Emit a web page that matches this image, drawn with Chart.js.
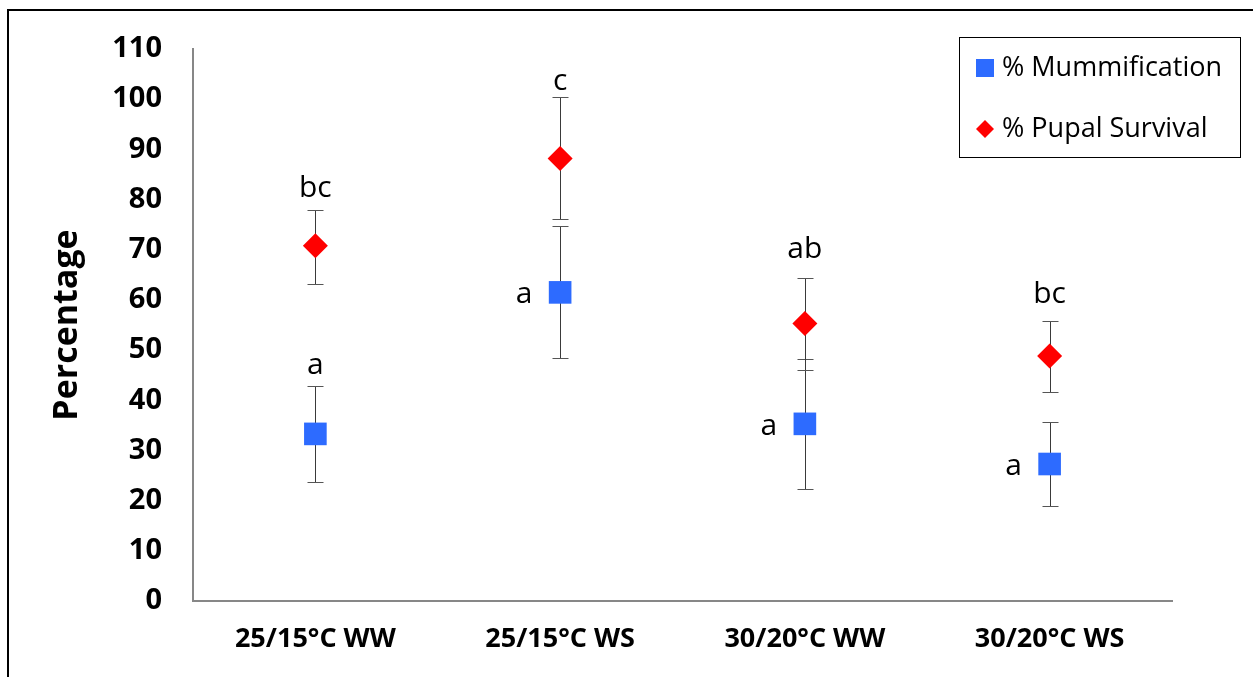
<!DOCTYPE html>
<html>
<head>
<meta charset="utf-8">
<title>Mummification and pupal survival</title>
<script src="https://cdn.jsdelivr.net/npm/chart.js@4/dist/chart.umd.min.js"></script>
<style>
  html, body { margin: 0; padding: 0; background: #ffffff; }
  #wrap { width: 1253px; height: 677px; position: relative; }
</style>
</head>
<body>
<div id="wrap"><canvas id="myChart" width="1253" height="677"></canvas></div>
<script>
"use strict";

// ---------- data ----------
var categories = ["25/15°C WW", "25/15°C WS", "30/20°C WW", "30/20°C WS"];

var mummValues = [33.3, 61.5, 35.3, 27.3];
var mummLow = [23.7, 48.5, 22.3, 18.9];
var mummHigh = [42.9, 74.7, 48.2, 35.7];

var pupalValues = [70.8, 88.2, 55.3, 48.8];
var pupalLow = [63.1, 76.1, 46.0, 41.6];
var pupalHigh = [77.9, 100.4, 64.3, 55.7];

// significance letters
var mummLetters = ["a", "a", "a", "a"];
var pupalLetters = ["bc", "c", "ab", "bc"];

var yTicks = [0, 10, 20, 30, 40, 50, 60, 70, 80, 90, 100, 110];

var seriesNames = ["% Mummification", "% Pupal Survival"];
var blue = "#2d6bff";
var red = "#ff0000";

//----------- error bars, drawn behind the markers ------------
var errorBars = {
  id: "errorBars",
  beforeDatasetsDraw: function (chart) {
    var ctx = chart.ctx;
    var x = chart.scales.x;
    var y = chart.scales.y;
    var sets = [[mummLow, mummHigh], [pupalLow, pupalHigh]];
    ctx.save();
    for (var s = 0; s < sets.length; s++) {
      for (var i = 0; i < categories.length; i++) {
        var px = Math.round(x.getPixelForValue(i)) + 0.5;
        var lo = Math.round(y.getPixelForValue(sets[s][0][i])) + 0.5;
        var hi = Math.round(y.getPixelForValue(sets[s][1][i])) + 0.5;
        ctx.strokeStyle = "#3a3a3a";
        ctx.lineWidth = 1;
        ctx.beginPath();
        ctx.moveTo(px, lo);
        ctx.lineTo(px, hi);
        ctx.stroke();
        ctx.strokeStyle = "#555555";
        ctx.beginPath();
        ctx.moveTo(px - 8, lo);
        ctx.lineTo(px + 8, lo);
        ctx.moveTo(px - 8, hi);
        ctx.lineTo(px + 8, hi);
        ctx.stroke();
      }
    }
    ctx.restore();
  }
};

//----------- letters, frame and legend box ------------
var extras = {
  id: "extras",
  beforeDraw: function (chart) {
    var ctx = chart.ctx;
    ctx.save();
    ctx.fillStyle = "#ffffff";
    ctx.fillRect(0, 0, chart.width, chart.height);
    // outer frame (only left and top edges are in view)
    ctx.strokeStyle = "#000000";
    ctx.lineWidth = 2;
    ctx.strokeRect(8, 10, 1400, 800);
    ctx.restore();
  },
  afterDatasetsDraw: function (chart) {
    var ctx = chart.ctx;
    var x = chart.scales.x;
    var y = chart.scales.y;
    ctx.save();
    ctx.fillStyle = "#000000";
    ctx.font = "30px 'Open Sans'";
    ctx.textAlign = "center";
    ctx.textBaseline = "alphabetic";

    var redGap = [13, 7, 20, 18];
    for (var i = 0; i < categories.length; i++) {
      var px = x.getPixelForValue(i);
      ctx.fillText(pupalLetters[i], px, y.getPixelForValue(pupalHigh[i]) - redGap[i]);
      if (i === 0) {
        ctx.fillText(mummLetters[i], px, y.getPixelForValue(mummHigh[i]) - 12);
      } else {
        ctx.fillText(mummLetters[i], px - 36, y.getPixelForValue(mummValues[i]) + 11);
      }
    }

    // legend box
    ctx.fillStyle = "#ffffff";
    ctx.fillRect(959, 37, 281, 120);
    ctx.strokeStyle = "#000000";
    ctx.lineWidth = 1;
    ctx.strokeRect(959.5, 37.5, 281, 120);
    ctx.fillStyle = blue;
    ctx.fillRect(976, 59, 18, 18);
    ctx.fillStyle = red;
    ctx.beginPath();
    ctx.moveTo(985, 120);
    ctx.lineTo(994, 129);
    ctx.lineTo(985, 138);
    ctx.lineTo(976, 129);
    ctx.closePath();
    ctx.fill();
    ctx.fillStyle = "#000000";
    ctx.font = "27px 'Open Sans'";
    ctx.textAlign = "left";
    ctx.textBaseline = "middle";
    ctx.fillText(seriesNames[0], 1002, 68);
    ctx.fillText(seriesNames[1], 1002, 129);
    ctx.restore();
  }
};

var ctx = document.getElementById("myChart").getContext("2d");
var chart = new Chart(ctx, {
  type: "line",
  data: {
    labels: categories,
    datasets: [
      {
        label: seriesNames[0],
        data: mummValues,
        showLine: false,
        pointStyle: "rect",
        pointRadius: 16,
        pointHoverRadius: 16,
        pointBorderWidth: 0,
        backgroundColor: blue,
        borderColor: blue
      },
      {
        label: seriesNames[1],
        data: pupalValues,
        showLine: false,
        pointStyle: "rectRot",
        pointRadius: 12.5,
        pointHoverRadius: 12.5,
        pointBorderWidth: 0,
        backgroundColor: red,
        borderColor: red
      }
    ]
  },
  options: {
    responsive: false,
    animation: false,
    events: [],
    layout: { padding: { left: 0, top: 49, right: 81, bottom: 0 } },
    plugins: {
      legend: { display: false },
      tooltip: { enabled: false }
    },
    scales: {
      x: {
        offset: true,
        grid: { display: false, drawTicks: false },
        border: { display: true, color: "#878787", width: 2 },
        ticks: {
          color: "#000000",
          padding: 22,
          maxRotation: 0,
          font: { family: "'Open Sans'", size: 27, weight: "bold" }
        },
        afterFit: function (scale) { scale.height = 76; }
      },
      y: {
        min: 0,
        max: 110,
        afterBuildTicks: function (scale) {
          scale.ticks = yTicks.map(function (v) { return { value: v }; });
        },
        grid: { display: false, drawTicks: false },
        border: { display: true, color: "#878787", width: 2 },
        ticks: {
          color: "#000000",
          padding: 31,
          font: { family: "'Open Sans'", size: 29, weight: "bold" }
        },
        title: {
          display: true,
          text: "Percentage",
          color: "#000000",
          padding: { top: 47, bottom: 0 },
          font: { family: "'Open Sans'", size: 34, weight: "bold" }
        },
        afterFit: function (scale) { scale.width = 193; }
      }
    }
  },
  plugins: [extras, errorBars]
});
</script>
</body>
</html>
